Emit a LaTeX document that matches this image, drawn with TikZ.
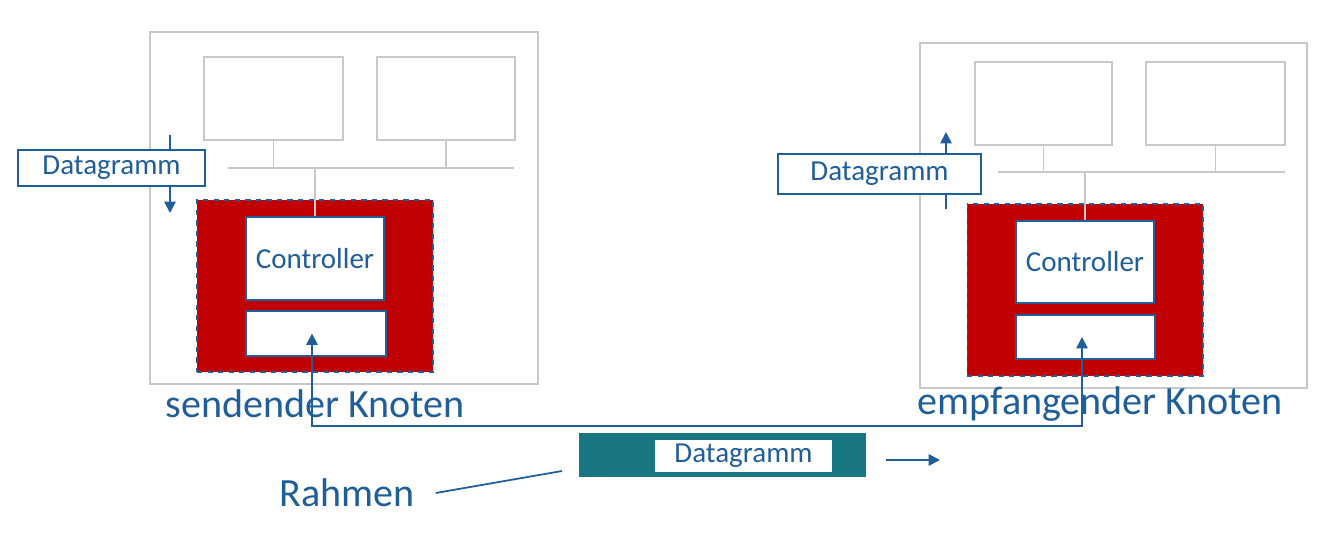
\documentclass[tikz,border=0pt]{standalone}
\usepackage{fontspec}
\setmainfont{Carlito}
\usepackage{tikz}
\usepackage{xcolor}
\usetikzlibrary{positioning,arrows.meta,calc}
\definecolor{nblue}{HTML}{1F5E99}
\definecolor{hostgray}{HTML}{C8C8C8}
\definecolor{nicred}{HTML}{C00000}
\definecolor{frameteal}{HTML}{17767F}

\begin{document}
\begin{tikzpicture}[x=0.02cm,y=-0.02cm,every node/.style={font=\fontsize{16.5}{19}\selectfont,text=nblue}]
    \tikzstyle{host}=[rectangle,draw=hostgray,line width=0.8pt,inner sep=0pt];
    \tikzstyle{nic}=[rectangle,fill=nicred,draw=nblue,dashed,line width=0.6pt,inner sep=0pt];
    \tikzstyle{part}=[rectangle,fill=white,draw=nblue,line width=0.9pt,inner sep=0pt];
    \tikzstyle{dgram}=[rectangle,fill=white,draw=nblue,line width=0.8pt,inner sep=0pt];
    \tikzstyle{title}=[font=\fontsize{22.8}{26}\selectfont];
    \tikzstyle{bus}=[draw=hostgray,line width=0.8pt];
    \tikzstyle{flow}=[draw=nblue,line width=1pt,-{Triangle[width=6.5pt,length=6.5pt]}];
    \useasboundingbox (0,0) rectangle (1334,545);
    % sending node
    \node[host,minimum width=7.76cm,minimum height=7.04cm] (hostL) at (344,208) {};
    \node[host,minimum width=2.78cm,minimum height=1.66cm] (cpuL) at (273.5,98.5) {};
    \node[host,minimum width=2.76cm,minimum height=1.66cm] (memL) at (446,98.5) {};
    \coordinate (busLa) at (228,168); \coordinate (busLb) at (514,168);
    \draw[bus] (busLa) -- (busLb);
    \draw[bus] (cpuL.south) -- (cpuL.south |- busLa);
    \draw[bus] (memL.south) -- (memL.south |- busLa);
    \node[nic,minimum width=4.72cm,minimum height=3.44cm] (nicL) at (315,286) {};
    \node[part,minimum width=2.76cm,minimum height=1.66cm] (ctrlL) at (315,258.5) {Controller};
    \node[part,minimum width=2.80cm,minimum height=0.90cm] (linkL) at (316,333.5) {};
    \draw[bus] (ctrlL.north |- busLa) -- (ctrlL.north);
    \coordinate (inL1) at (170,135); \coordinate (inL2) at (170,213);
    \draw[flow] (inL1) -- (inL2);
    \node[dgram,minimum width=3.74cm,minimum height=0.72cm] (dgL) at (111.5,168) {Datagramm};
    \node[title] (sendL) at (315,404) {sendender Knoten};
    % receiving node
    \node[host,minimum width=7.74cm,minimum height=6.90cm] (hostR) at (1113.5,215.5) {};
    \node[host,minimum width=2.74cm,minimum height=1.66cm] (cpuR) at (1043.5,103.5) {};
    \node[host,minimum width=2.78cm,minimum height=1.66cm] (memR) at (1215.5,103.5) {};
    \coordinate (busRa) at (998,172); \coordinate (busRb) at (1285,172);
    \draw[bus] (busRa) -- (busRb);
    \draw[bus] (cpuR.south) -- (cpuR.south |- busRa);
    \draw[bus] (memR.south) -- (memR.south |- busRa);
    \node[nic,minimum width=4.72cm,minimum height=3.44cm] (nicR) at (1085,290) {};
    \node[part,minimum width=2.76cm,minimum height=1.64cm] (ctrlR) at (1085,262) {Controller};
    \node[part,minimum width=2.78cm,minimum height=0.88cm] (linkR) at (1085.5,337) {};
    \draw[bus] (ctrlR.north |- busRa) -- (ctrlR.north);
    \coordinate (inR1) at (946,209); \coordinate (inR2) at (946,132);
    \draw[flow] (inR1) -- (inR2);
    \node[dgram,minimum width=4.06cm,minimum height=0.80cm] (dgR) at (879.5,174) {Datagramm};
    \node[title] (recvR) at (1100,404) {empfangender Knoten};
    % link between the two controllers
    \coordinate (wire) at (700,426);
    \coordinate (tipL) at ([xshift=-0.08cm]linkL.center);
    \coordinate (tipR) at ([xshift=-0.07cm]linkR.center);
    \draw[flow,{Triangle[width=6.5pt,length=6.5pt]}-{Triangle[width=6.5pt,length=6.5pt]}]
       (tipL) -- (tipL |- wire) -- (tipR |- wire) -- (tipR);
    % frame
    \node[rectangle,fill=frameteal,inner sep=0pt,minimum width=5.74cm,minimum height=0.88cm] (frame) at (722.5,455) {};
    \node[rectangle,fill=white,inner sep=0pt,minimum width=3.54cm,minimum height=0.64cm] (payload) at (743.5,456) {Datagramm};
    \coordinate (go1) at (886,460); \coordinate (go2) at (940,460);
    \draw[flow] (go1) -- (go2);
    \node[title] (rahmen) at (347,493) {Rahmen};
    \coordinate (rtip) at (562,471);
    \draw[nblue,line width=1pt] ([xshift=0.3cm]rahmen.east) -- (rtip);
  \end{tikzpicture}
\end{document}
